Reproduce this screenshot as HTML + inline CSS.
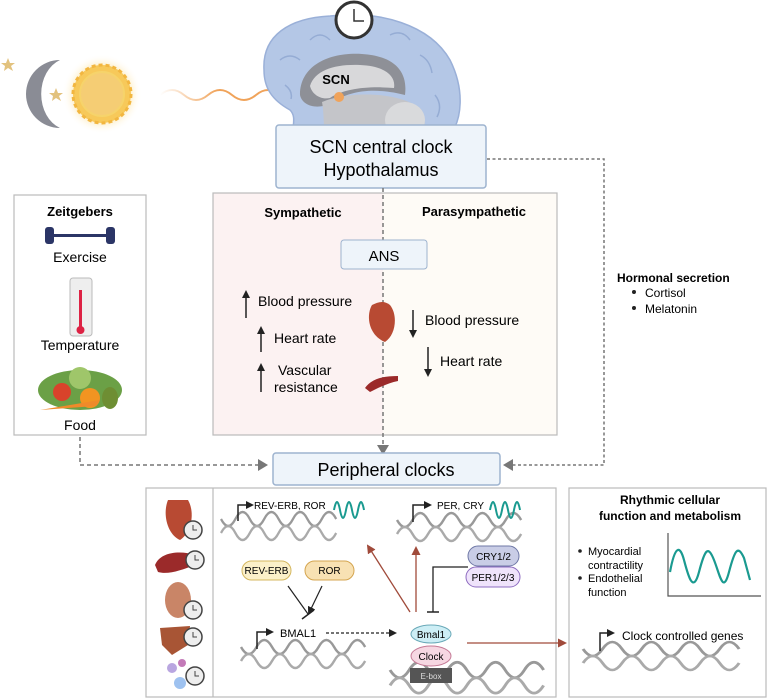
<!DOCTYPE html>
<html><head><meta charset="utf-8"><style>
body{margin:0;background:#fff}
svg{display:block;font-family:"Liberation Sans",sans-serif}
</style></head><body>
<svg width="776" height="699" viewBox="0 0 776 699" xmlns="http://www.w3.org/2000/svg">
<defs>
<marker id="ak" markerWidth="8" markerHeight="8" refX="6" refY="4" orient="auto" markerUnits="userSpaceOnUse"><path d="M0,0 L8,4 L0,8z" fill="#222"/></marker>
<marker id="ar" markerWidth="9" markerHeight="9" refX="7" refY="4.5" orient="auto" markerUnits="userSpaceOnUse"><path d="M0,0 L9,4.5 L0,9z" fill="#a04a3a"/></marker>
<marker id="ao" markerWidth="12" markerHeight="12" refX="8" refY="6" orient="auto" markerUnits="userSpaceOnUse"><path d="M0,0 L12,6 L0,12z" fill="#f0963a"/></marker>
<radialGradient id="sg"><stop offset="0.6" stop-color="#fde3a0"/><stop offset="1" stop-color="#fff" stop-opacity="0"/></radialGradient>
<linearGradient id="wg" x1="0" x2="1"><stop offset="0" stop-color="#f0a35a" stop-opacity="0"/><stop offset="0.4" stop-color="#f0a35a"/></linearGradient>
<g id="dna"><path d="M0,0 q8,14 16,0 t16,0 t16,0 t16,0 t16,0 t16,0 t16,0 t16,0" fill="none" stroke="#999" stroke-width="2.5"/><path d="M0,14 q8,-14 16,0 t16,0 t16,0 t16,0 t16,0 t16,0 t16,0 t16,0" fill="none" stroke="#aaa" stroke-width="2.5"/></g>
<g id="clk"><circle r="9" fill="#eee" stroke="#444" stroke-width="1.5"/><path d="M0,-5 V0 H4" stroke="#444" fill="none"/></g>
</defs>

<!-- moon & sun -->
<path d="M8,58 l2,5 5,0 -4,3 2,5 -5,-3 -4,3 1,-5 -4,-3 5,0z" fill="#e2c27e"/>
<path d="M56,88 l2,5 5,0 -4,3 2,5 -5,-3 -4,3 1,-5 -4,-3 5,0z" fill="#e2c27e"/>
<path d="M60,60 A34,34 0 1 0 60,128 A28,36 0 0 1 60,60z" fill="#8a8c95"/>
<circle cx="102" cy="94" r="40" fill="url(#sg)"/>
<circle cx="102" cy="94" r="29" fill="#f7c95a" stroke="#f2b640" stroke-width="3" stroke-dasharray="4 3"/>
<circle cx="102" cy="94" r="22" fill="#f5cd74" stroke="#f6d36b" stroke-width="2"/>
<path d="M160,95 q12,-10 24,0 t24,0 t24,0 t24,0 t24,0 t24,0" fill="none" stroke="url(#wg)" stroke-width="2" marker-end="url(#ao)"/>

<!-- brain -->
<path d="M264,70 C262,35 290,18 330,16 C380,10 430,25 450,60 C465,90 462,120 450,135 C440,150 425,152 410,150 L300,150 C285,135 300,120 290,110 C272,100 264,88 264,70z" fill="#b4c7e6" stroke="#9ab0d8" stroke-width="1.5"/>
<path d="M280,60 q10,-8 20,0 M310,40 q10,-10 20,0 M390,35 q12,-6 20,5 M420,55 q10,5 12,18 M435,95 q8,10 2,22 M285,85 q8,6 6,14" stroke="#95acd4" fill="none" stroke-width="1.5"/>
<path d="M300,95 C300,65 330,52 362,54 C395,56 408,72 405,95 C385,90 355,86 330,104 C315,110 302,105 300,95z" fill="#8e9097"/>
<path d="M310,86 C315,70 335,64 360,65 C385,66 396,76 394,88 C370,86 345,88 330,98 C320,100 312,94 310,86z" fill="#d8d8da"/>
<path d="M322,102 C345,92 395,90 420,108 C432,128 420,148 400,152 L330,152 C322,135 325,118 322,102z" fill="#c4c5c9"/>
<ellipse cx="405" cy="120" rx="20" ry="18" fill="#d9dadc"/>
<circle cx="354" cy="20" r="18" fill="#fff" stroke="#333" stroke-width="3"/>
<path d="M354,9 V21 H364" stroke="#333" fill="none" stroke-width="1.5"/>
<text x="336" y="84" font-size="13" font-weight="bold" text-anchor="middle">SCN</text>
<circle cx="339" cy="97" r="5" fill="#f0a35a"/>

<!-- SCN box -->
<rect x="276" y="125" width="210" height="63" rx="3" fill="#eef4fa" stroke="#9db3cf" stroke-width="1.5"/>
<text x="381" y="153" font-size="18" text-anchor="middle">SCN central clock</text>
<text x="381" y="176" font-size="18" text-anchor="middle">Hypothalamus</text>

<!-- Zeitgebers -->
<rect x="14" y="195" width="132" height="240" fill="#fff" stroke="#bbb" stroke-width="1.2"/>
<text x="80" y="216" font-size="13" font-weight="bold" text-anchor="middle">Zeitgebers</text>
<rect x="50" y="234" width="60" height="3" fill="#2b3566"/>
<rect x="45" y="227" width="9" height="17" rx="3" fill="#2b3566"/><rect x="106" y="227" width="9" height="17" rx="3" fill="#2b3566"/>
<text x="80" y="262" font-size="14" text-anchor="middle">Exercise</text>
<rect x="70" y="278" width="22" height="58" rx="3" fill="#eee" stroke="#bbb"/>
<rect x="79" y="290" width="3" height="38" fill="#d24"/><circle cx="80.5" cy="330" r="4" fill="#d24"/>
<text x="80" y="350" font-size="14" text-anchor="middle">Temperature</text>
<ellipse cx="80" cy="390" rx="42" ry="20" fill="#6ba046"/>
<circle cx="62" cy="392" r="9" fill="#d9432b"/><circle cx="90" cy="398" r="10" fill="#f29421"/><circle cx="80" cy="378" r="11" fill="#9fc66a"/><path d="M40,410 L100,400 L96,406z" fill="#ef8a2a"/><ellipse cx="110" cy="398" rx="8" ry="11" fill="#6e8e33"/>
<text x="80" y="430" font-size="14" text-anchor="middle">Food</text>

<!-- ANS panel -->
<rect x="213" y="193" width="170" height="242" fill="#fcf2f2"/>
<rect x="383" y="193" width="174" height="242" fill="#fefbf6"/>
<rect x="213" y="193" width="344" height="242" fill="none" stroke="#bbb" stroke-width="1.2"/>
<line x1="383" y1="188" x2="383" y2="445" stroke="#777" stroke-width="1.5" stroke-dasharray="4 3"/>
<path d="M377,445 L389,445 L383,455z" fill="#777"/>
<text x="303" y="217" font-size="13" font-weight="bold" text-anchor="middle">Sympathetic</text>
<text x="474" y="216" font-size="13" font-weight="bold" text-anchor="middle">Parasympathetic</text>
<rect x="341" y="240" width="86" height="29" rx="3" fill="#eef4fa" stroke="#9db3cf"/>
<text x="384" y="261" font-size="15" text-anchor="middle">ANS</text>
<g stroke="#222" stroke-width="1.5">
<line x1="246" y1="318" x2="246" y2="292" marker-end="url(#ak)"/>
<line x1="261" y1="352" x2="261" y2="328" marker-end="url(#ak)"/>
<line x1="261" y1="392" x2="261" y2="365" marker-end="url(#ak)"/>
<line x1="413" y1="310" x2="413" y2="336" marker-end="url(#ak)"/>
<line x1="428" y1="347" x2="428" y2="375" marker-end="url(#ak)"/>
</g>
<g font-size="14">
<text x="258" y="306">Blood pressure</text>
<text x="274" y="343">Heart rate</text>
<text x="278" y="375">Vascular</text>
<text x="274" y="392">resistance</text>
<text x="425" y="325">Blood pressure</text>
<text x="440" y="366">Heart rate</text>
</g>
<path d="M372,305 C366,315 368,335 385,342 C396,335 398,315 390,305 C384,300 378,302 372,305z" fill="#b84a33"/>
<path d="M365,388 C372,378 385,376 398,376 L398,381 C388,383 378,388 370,392z" fill="#9b2a2a"/>

<!-- hormonal -->
<text x="617" y="282" font-size="12" font-weight="bold">Hormonal secretion</text>
<circle cx="634" cy="292" r="2" fill="#222"/><text x="645" y="297" font-size="12">Cortisol</text>
<circle cx="634" cy="308" r="2" fill="#222"/><text x="645" y="313" font-size="12">Melatonin</text>

<!-- dashed connectors -->
<path d="M487,159 H604 V465 H510" fill="none" stroke="#777" stroke-width="1.5" stroke-dasharray="3 2.5"/>
<path d="M503,465 L513,459 L513,471z" fill="#777"/>
<path d="M80,437 V465 H258" fill="none" stroke="#777" stroke-width="1.5" stroke-dasharray="4 3"/>
<path d="M268,465 L258,459 L258,471z" fill="#777"/>

<!-- Peripheral clocks -->
<rect x="273" y="453" width="227" height="32" rx="3" fill="#eef4fa" stroke="#9db3cf" stroke-width="1.5"/>
<text x="386" y="476" font-size="18" text-anchor="middle">Peripheral clocks</text>

<!-- lower panels -->
<rect x="146" y="488" width="410" height="209" fill="#fff" stroke="#bbb" stroke-width="1.2"/>
<line x1="213" y1="488" x2="213" y2="697" stroke="#bbb" stroke-width="1.2"/>
<rect x="569" y="488" width="197" height="209" fill="#fff" stroke="#bbb" stroke-width="1.2"/>

<!-- organs -->
<path d="M168,500 C162,515 168,535 180,540 C192,532 195,512 188,500z" fill="#b84a33"/>
<use href="#clk" x="193" y="530"/>
<path d="M155,565 C160,552 180,550 195,555 L195,565 C182,570 168,575 158,572z" fill="#9b2a2a"/>
<use href="#clk" x="195" y="560"/>
<ellipse cx="178" cy="600" rx="13" ry="18" fill="#c98567"/>
<use href="#clk" x="193" y="610"/>
<path d="M160,628 L190,626 L188,645 L172,655 L162,645z" fill="#a85535"/>
<use href="#clk" x="193" y="637"/>
<circle cx="172" cy="668" r="5" fill="#b9a6e0"/><circle cx="182" cy="663" r="4" fill="#c37ab8"/><circle cx="180" cy="683" r="6" fill="#9ec2f0"/>
<use href="#clk" x="195" y="676"/>

<!-- genes -->
<use href="#dna" transform="translate(221,519) scale(0.9,1)"/>
<path d="M238,521 V505 H252" fill="none" stroke="#222" stroke-width="1.5" marker-end="url(#ak)"/>
<text x="254" y="509" font-size="10">REV-ERB, ROR</text>
<path d="M334,510 q3,-16 6,0 t6,0 t6,0 t6,0 t6,0" fill="none" stroke="#1a9a90" stroke-width="2"/>

<use href="#dna" transform="translate(397,520) scale(0.97,1)"/>
<path d="M413,522 V505 H430" fill="none" stroke="#222" stroke-width="1.5" marker-end="url(#ak)"/>
<text x="437" y="509" font-size="10">PER, CRY</text>
<path d="M490,510 q3,-16 6,0 t6,0 t6,0 t6,0 t6,0" fill="none" stroke="#1a9a90" stroke-width="2"/>

<rect x="242" y="561" width="49" height="19" rx="9.5" fill="#fbf0c9" stroke="#d4b760"/>
<text x="266.5" y="574" font-size="10" text-anchor="middle">REV-ERB</text>
<rect x="305" y="561" width="49" height="19" rx="9.5" fill="#f8e1b3" stroke="#d4a550"/>
<text x="329.5" y="574" font-size="10" text-anchor="middle">ROR</text>
<line x1="288" y1="586" x2="308" y2="614" stroke="#222" stroke-width="1.2"/>
<line x1="302" y1="619" x2="314" y2="610" stroke="#222" stroke-width="1.5"/>
<line x1="322" y1="586" x2="309" y2="613" stroke="#222" stroke-width="1.2" marker-end="url(#ak)"/>

<use href="#dna" transform="translate(241,647) scale(0.97,1)"/>
<path d="M257,649 V632 H272" fill="none" stroke="#222" stroke-width="1.5" marker-end="url(#ak)"/>
<text x="280" y="637" font-size="11">BMAL1</text>
<line x1="326" y1="633" x2="395" y2="633" stroke="#222" stroke-width="1.2" stroke-dasharray="3 2" marker-end="url(#ak)"/>

<use href="#dna" transform="translate(390,670) scale(1.2,1.1)"/>
<ellipse cx="431" cy="634" rx="20" ry="9" fill="#cdeef5" stroke="#6aa9b8"/>
<text x="431" y="638" font-size="10" text-anchor="middle">Bmal1</text>
<ellipse cx="431" cy="656" rx="20" ry="10" fill="#f6d7e2" stroke="#c57a96"/>
<text x="431" y="660" font-size="10" text-anchor="middle">Clock</text>
<rect x="410" y="668" width="42" height="15" fill="#555"/>
<text x="431" y="679" font-size="8" fill="#ddd" text-anchor="middle">E-box</text>

<rect x="468" y="546" width="51" height="20" rx="10" fill="#c9cde6" stroke="#6f78a6"/>
<text x="493.5" y="560" font-size="10" text-anchor="middle">CRY1/2</text>
<rect x="466" y="567" width="54" height="20" rx="10" fill="#efe3fb" stroke="#8e6cc0"/>
<text x="493" y="581" font-size="10" text-anchor="middle">PER1/2/3</text>
<path d="M468,567 H433 V612" fill="none" stroke="#222" stroke-width="1.3"/>
<line x1="427" y1="612" x2="439" y2="612" stroke="#222" stroke-width="1.5"/>

<line x1="410" y1="612" x2="368" y2="546" stroke="#a04a3a" stroke-width="1.3" marker-end="url(#ar)"/>
<line x1="416" y1="612" x2="416" y2="548" stroke="#a04a3a" stroke-width="1.3" marker-end="url(#ar)"/>
<line x1="467" y1="643" x2="565" y2="643" stroke="#a04a3a" stroke-width="1.3" marker-end="url(#ar)"/>

<!-- right panel -->
<text x="670" y="504" font-size="12" font-weight="bold" text-anchor="middle">Rhythmic cellular</text>
<text x="670" y="520" font-size="12" font-weight="bold" text-anchor="middle">function and metabolism</text>
<g font-size="11">
<circle cx="580" cy="551" r="1.8" fill="#222"/><text x="588" y="555">Myocardial</text>
<text x="588" y="569">contractility</text>
<circle cx="580" cy="578" r="1.8" fill="#222"/><text x="588" y="582">Endothelial</text>
<text x="588" y="596">function</text>
</g>
<path d="M668,533 V596 H761" fill="none" stroke="#555" stroke-width="1.2"/>
<path d="M670,572 C675,545 680,545 684,560 S693,595 699,572 S708,545 714,560 S723,595 729,572 S738,545 744,558 L750,580" fill="none" stroke="#1a9a90" stroke-width="2.2"/>
<use href="#dna" transform="translate(583,649) scale(1.22,1)"/>
<path d="M600,651 V633 H613" fill="none" stroke="#222" stroke-width="1.5" marker-end="url(#ak)"/>
<text x="622" y="640" font-size="12">Clock controlled genes</text>
</svg>
</body></html>
